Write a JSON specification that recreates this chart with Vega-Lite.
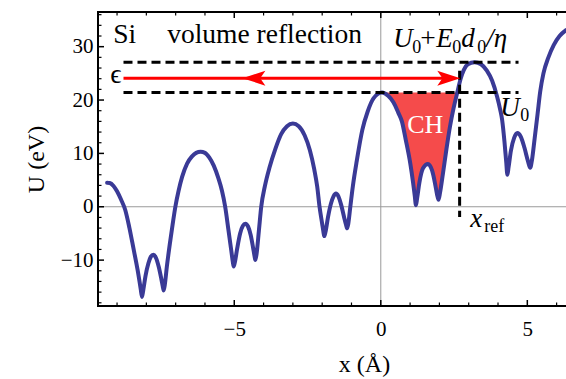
{
  "$schema": "https://vega.github.io/schema/vega-lite/v6.json",
  "width": 468,
  "height": 294,
  "autosize": {"type": "none"},
  "padding": {"left": 98, "top": 12, "right": 0, "bottom": 73},
  "background": "white",
  "config": {"view": {"stroke": null}, "font": "Liberation Serif"},
  "datasets": {
    "potential": [
      {"x": -9.34, "U": 4.5}, {"x": -9.25, "U": 4.45}, {"x": -9.12, "U": 3.9}, {"x": -9.0, "U": 2.9},
      {"x": -8.86, "U": 1.3}, {"x": -8.72, "U": -0.6}, {"x": -8.58, "U": -3.9}, {"x": -8.44, "U": -7.8},
      {"x": -8.3, "U": -11.8}, {"x": -8.19, "U": -15.5}, {"x": -8.15, "U": -16.9}, {"x": -8.11, "U": -15.8},
      {"x": -8.03, "U": -13.0}, {"x": -7.93, "U": -10.6}, {"x": -7.85, "U": -9.4}, {"x": -7.76, "U": -9.0},
      {"x": -7.67, "U": -9.6}, {"x": -7.58, "U": -11.2}, {"x": -7.49, "U": -13.5}, {"x": -7.44, "U": -14.9},
      {"x": -7.41, "U": -15.7}, {"x": -7.37, "U": -14.6}, {"x": -7.3, "U": -11.2}, {"x": -7.2, "U": -7.0},
      {"x": -7.1, "U": -3.2}, {"x": -7.01, "U": 0}, {"x": -6.9, "U": 3.0}, {"x": -6.78, "U": 5.6},
      {"x": -6.61, "U": 8.1}, {"x": -6.45, "U": 9.4}, {"x": -6.3, "U": 10.1}, {"x": -6.15, "U": 10.3},
      {"x": -6.0, "U": 10.1}, {"x": -5.85, "U": 9.2}, {"x": -5.7, "U": 7.7}, {"x": -5.54, "U": 5.3},
      {"x": -5.42, "U": 3.0}, {"x": -5.31, "U": 0}, {"x": -5.2, "U": -4.3}, {"x": -5.1, "U": -8.3},
      {"x": -5.05, "U": -10.3}, {"x": -5.02, "U": -11.2}, {"x": -4.98, "U": -10.4}, {"x": -4.9, "U": -7.8},
      {"x": -4.8, "U": -5.0}, {"x": -4.71, "U": -3.6}, {"x": -4.62, "U": -3.2}, {"x": -4.53, "U": -3.7},
      {"x": -4.44, "U": -5.3}, {"x": -4.36, "U": -7.6}, {"x": -4.31, "U": -9.2}, {"x": -4.28, "U": -10.0},
      {"x": -4.24, "U": -8.9}, {"x": -4.16, "U": -4.5}, {"x": -4.08, "U": 0}, {"x": -3.95, "U": 4.0},
      {"x": -3.8, "U": 7.3}, {"x": -3.6, "U": 10.8}, {"x": -3.4, "U": 13.6}, {"x": -3.2, "U": 15.1},
      {"x": -3.0, "U": 15.6}, {"x": -2.8, "U": 15.1}, {"x": -2.6, "U": 13.4}, {"x": -2.42, "U": 10.6},
      {"x": -2.27, "U": 7.0}, {"x": -2.17, "U": 3.8}, {"x": -2.09, "U": 0}, {"x": -2.0, "U": -3.2},
      {"x": -1.96, "U": -4.6}, {"x": -1.93, "U": -5.5}, {"x": -1.89, "U": -4.8}, {"x": -1.8, "U": -1.9},
      {"x": -1.7, "U": 0.6}, {"x": -1.61, "U": 2.0}, {"x": -1.53, "U": 2.5}, {"x": -1.45, "U": 2.0},
      {"x": -1.35, "U": 0.3}, {"x": -1.25, "U": -2.0}, {"x": -1.18, "U": -3.5}, {"x": -1.15, "U": -4.05},
      {"x": -1.11, "U": -3.2}, {"x": -1.04, "U": 0}, {"x": -0.95, "U": 4.0}, {"x": -0.82, "U": 8.6},
      {"x": -0.63, "U": 14.4}, {"x": -0.45, "U": 17.8}, {"x": -0.25, "U": 20.3}, {"x": 0.04, "U": 21.4},
      {"x": 0.25, "U": 20.8}, {"x": 0.43, "U": 19.6}, {"x": 0.6, "U": 17.6}, {"x": 0.72, "U": 16.0},
      {"x": 0.85, "U": 12.6}, {"x": 1.01, "U": 8.0}, {"x": 1.1, "U": 4.6}, {"x": 1.16, "U": 2.0},
      {"x": 1.2, "U": 0.3}, {"x": 1.24, "U": 1.6}, {"x": 1.32, "U": 4.6}, {"x": 1.44, "U": 7.2},
      {"x": 1.61, "U": 8.0}, {"x": 1.75, "U": 6.8}, {"x": 1.85, "U": 4.4}, {"x": 1.92, "U": 2.3},
      {"x": 1.97, "U": 1.3}, {"x": 2.02, "U": 2.6}, {"x": 2.12, "U": 6.2}, {"x": 2.24, "U": 10.8},
      {"x": 2.36, "U": 15.0}, {"x": 2.48, "U": 18.4}, {"x": 2.61, "U": 21.4}, {"x": 2.72, "U": 23.9},
      {"x": 2.83, "U": 25.6}, {"x": 2.97, "U": 26.7}, {"x": 3.2, "U": 27.1}, {"x": 3.42, "U": 26.7},
      {"x": 3.62, "U": 25.5}, {"x": 3.8, "U": 23.6}, {"x": 3.97, "U": 20.6}, {"x": 4.07, "U": 18.3},
      {"x": 4.14, "U": 16.3}, {"x": 4.22, "U": 12.2}, {"x": 4.28, "U": 8.4}, {"x": 4.32, "U": 6.0},
      {"x": 4.36, "U": 7.4}, {"x": 4.44, "U": 10.5}, {"x": 4.55, "U": 12.9}, {"x": 4.66, "U": 13.8},
      {"x": 4.78, "U": 13.1}, {"x": 4.9, "U": 11.1}, {"x": 5.02, "U": 8.6}, {"x": 5.1, "U": 7.3},
      {"x": 5.16, "U": 8.8}, {"x": 5.25, "U": 12.8}, {"x": 5.35, "U": 17.4}, {"x": 5.44, "U": 21.6},
      {"x": 5.55, "U": 25.0}, {"x": 5.72, "U": 28.0}, {"x": 5.9, "U": 30.3}, {"x": 6.1, "U": 32.0},
      {"x": 6.32, "U": 33.1}
    ],
    "levels": [
      {"name": "U0+E0d0/η", "x0": -8.78, "x1": 4.7, "y": 27.1},
      {"name": "U0", "x0": -8.78, "x1": 4.7, "y": 21.4}
    ],
    "xref": [{"x": 2.69, "y0": 25.5, "y1": -1.9}],
    "beam": [{"x0": -8.78, "x1": 2.5, "y": 24.1}],
    "headLeft": [{"x": -4.33, "y": 24.1}],
    "headRight": [{"x": 2.32, "y": 24.1}],
    "frame": [{"xmin": -9.65, "ymin": -18.6, "ymax": 36.5}],
    "xMajor": [{"v": -5}, {"v": 0}, {"v": 5}],
    "xMinor": [
      {"v": -9}, {"v": -8}, {"v": -7}, {"v": -6}, {"v": -4}, {"v": -3}, {"v": -2},
      {"v": -1}, {"v": 1}, {"v": 2}, {"v": 3}, {"v": 4}, {"v": 6}
    ],
    "yMajor": [{"v": -10}, {"v": 0}, {"v": 10}, {"v": 20}, {"v": 30}],
    "yMinor": [
      {"v": -18}, {"v": -16}, {"v": -14}, {"v": -12}, {"v": -8}, {"v": -6}, {"v": -4}, {"v": -2},
      {"v": 2}, {"v": 4}, {"v": 6}, {"v": 8}, {"v": 12}, {"v": 14}, {"v": 16}, {"v": 18},
      {"v": 22}, {"v": 24}, {"v": 26}, {"v": 28}, {"v": 32}, {"v": 34}, {"v": 36}
    ],
    "roman": [
      {"x": -9.13, "y": 30.7, "text": "Si"},
      {"x": -7.29, "y": 30.7, "text": "volume reflection"},
      {"x": -9.23, "y": 23.2, "text": "ϵ"},
      {"x": 1.348, "y": 29.94, "text": "+"}
    ],
    "italic": [
      {"x": 0.427, "y": 29.94, "text": "U"},
      {"x": 1.894, "y": 29.94, "text": "E"},
      {"x": 2.747, "y": 29.94, "text": "d"},
      {"x": 3.601, "y": 29.94, "text": "/η"},
      {"x": 4.08, "y": 17.0, "text": "U"},
      {"x": 3.05, "y": -3.8, "text": "x"}
    ],
    "subscripts": [
      {"x": 1.075, "y": 28.8, "text": "0"},
      {"x": 2.44, "y": 28.8, "text": "0"},
      {"x": 3.294, "y": 28.8, "text": "0"},
      {"x": 4.76, "y": 16.0, "text": "0"},
      {"x": 3.53, "y": -4.75, "text": "ref"}
    ],
    "channel": [{"x": 1.52, "y": 13.8, "text": "CH"}]
  },
  "layer": [
    {
      "data": {"name": "potential"},
      "transform": [{"filter": {"field": "x", "range": [0.04, 2.61]}}],
      "mark": {"type": "area", "interpolate": "monotone", "color": "#f54b4b", "opacity": 1},
      "encoding": {
        "x": {
          "field": "x", "type": "quantitative",
          "scale": {"domain": [-9.65, 6.32], "nice": false, "zero": false},
          "axis": {
            "values": [-5, 0, 5], "title": "x (Å)", "grid": false, "ticks": false, "domain": false,
            "labelFont": "Liberation Serif", "labelFontSize": 21, "labelColor": "black", "labelPadding": 12,
            "titleFont": "Liberation Serif", "titleFontSize": 24, "titleFontWeight": "normal", "titleColor": "black",
            "titleX": 266, "titleY": 65, "titleBaseline": "alphabetic"
          }
        },
        "y": {
          "field": "U", "type": "quantitative",
          "scale": {"domain": [-18.6, 36.5], "nice": false, "zero": false},
          "axis": {
            "values": [-10, 0, 10, 20, 30], "title": "U (eV)", "grid": false, "ticks": false, "domain": false,
            "labelFont": "Liberation Serif", "labelFontSize": 21, "labelColor": "black", "labelPadding": 5,
            "titleFont": "Liberation Serif", "titleFontSize": 24, "titleFontWeight": "normal", "titleColor": "black",
            "titleX": -55, "titleY": 147, "titleAngle": -90, "titleBaseline": "alphabetic", "titleAlign": "center"
          }
        },
        "y2": {"datum": 21.4}
      }
    },
    {
      "data": {"name": "frame"},
      "layer": [
        {
          "mark": {"type": "rule", "color": "#9a9a9a", "strokeWidth": 1},
          "encoding": {"x": {"datum": 0, "type": "quantitative"}}
        },
        {
          "mark": {"type": "rule", "color": "#9a9a9a", "strokeWidth": 1},
          "encoding": {"y": {"datum": 0, "type": "quantitative"}}
        }
      ]
    },
    {
      "data": {"name": "potential"},
      "mark": {"type": "line", "interpolate": "monotone", "color": "#3a3a96", "strokeWidth": 4, "strokeCap": "round", "strokeJoin": "round"},
      "encoding": {
        "x": {"field": "x", "type": "quantitative"},
        "y": {"field": "U", "type": "quantitative"}
      }
    },
    {
      "data": {"name": "levels"},
      "mark": {"type": "rule", "color": "black", "strokeWidth": 3, "strokeDash": [9, 5]},
      "encoding": {
        "x": {"field": "x0", "type": "quantitative"},
        "x2": {"field": "x1"},
        "y": {"field": "y", "type": "quantitative"}
      }
    },
    {
      "data": {"name": "xref"},
      "mark": {"type": "rule", "color": "black", "strokeWidth": 3, "strokeDash": [9, 5]},
      "encoding": {
        "x": {"field": "x", "type": "quantitative"},
        "y": {"field": "y0", "type": "quantitative"},
        "y2": {"field": "y1"}
      }
    },
    {
      "data": {"name": "beam"},
      "mark": {"type": "rule", "color": "#ff0000", "strokeWidth": 3},
      "encoding": {
        "x": {"field": "x0", "type": "quantitative"},
        "x2": {"field": "x1"},
        "y": {"field": "y", "type": "quantitative"}
      }
    },
    {
      "data": {"name": "headLeft"},
      "mark": {"type": "point", "shape": "M -1 0 L 1 -0.65 L 0.55 0 L 1 0.65 Z", "size": 529, "filled": true, "color": "#ff0000", "opacity": 1, "strokeWidth": 0},
      "encoding": {
        "x": {"field": "x", "type": "quantitative"},
        "y": {"field": "y", "type": "quantitative"}
      }
    },
    {
      "data": {"name": "headRight"},
      "mark": {"type": "point", "shape": "M 1 0 L -1 -0.65 L -0.55 0 L -1 0.65 Z", "size": 529, "filled": true, "color": "#ff0000", "opacity": 1, "strokeWidth": 0},
      "encoding": {
        "x": {"field": "x", "type": "quantitative"},
        "y": {"field": "y", "type": "quantitative"}
      }
    },
    {
      "data": {"name": "frame"},
      "layer": [
        {
          "mark": {"type": "rule", "color": "black", "strokeWidth": 2, "strokeCap": "square"},
          "encoding": {"y": {"field": "ymin", "type": "quantitative"}}
        },
        {
          "mark": {"type": "rule", "color": "black", "strokeWidth": 2, "strokeCap": "square"},
          "encoding": {"y": {"field": "ymax", "type": "quantitative"}}
        },
        {
          "mark": {"type": "rule", "color": "black", "strokeWidth": 2, "strokeCap": "square"},
          "encoding": {"x": {"field": "xmin", "type": "quantitative"}}
        }
      ]
    },
    {
      "data": {"name": "xMajor"},
      "layer": [
        {"mark": {"type": "tick", "orient": "vertical", "size": 12, "thickness": 1.5, "color": "black", "opacity": 1, "clip": true},
         "encoding": {"x": {"field": "v", "type": "quantitative"}, "y": {"datum": -18.6, "type": "quantitative"}}},
        {"mark": {"type": "tick", "orient": "vertical", "size": 12, "thickness": 1.5, "color": "black", "opacity": 1, "clip": true},
         "encoding": {"x": {"field": "v", "type": "quantitative"}, "y": {"datum": 36.5, "type": "quantitative"}}}
      ]
    },
    {
      "data": {"name": "xMinor"},
      "layer": [
        {"mark": {"type": "tick", "orient": "vertical", "size": 7, "thickness": 1.2, "color": "black", "opacity": 1, "clip": true},
         "encoding": {"x": {"field": "v", "type": "quantitative"}, "y": {"datum": -18.6, "type": "quantitative"}}},
        {"mark": {"type": "tick", "orient": "vertical", "size": 7, "thickness": 1.2, "color": "black", "opacity": 1, "clip": true},
         "encoding": {"x": {"field": "v", "type": "quantitative"}, "y": {"datum": 36.5, "type": "quantitative"}}}
      ]
    },
    {
      "data": {"name": "yMajor"},
      "mark": {"type": "tick", "orient": "horizontal", "size": 12, "thickness": 1.5, "color": "black", "opacity": 1, "clip": true},
      "encoding": {"y": {"field": "v", "type": "quantitative"}, "x": {"datum": -9.65, "type": "quantitative"}}
    },
    {
      "data": {"name": "yMinor"},
      "mark": {"type": "tick", "orient": "horizontal", "size": 7, "thickness": 1.2, "color": "black", "opacity": 1, "clip": true},
      "encoding": {"y": {"field": "v", "type": "quantitative"}, "x": {"datum": -9.65, "type": "quantitative"}}
    },
    {
      "data": {"name": "roman"},
      "mark": {"type": "text", "font": "Liberation Serif, DejaVu Serif", "fontSize": 27.5, "align": "left", "baseline": "alphabetic", "color": "black"},
      "encoding": {
        "x": {"field": "x", "type": "quantitative"},
        "y": {"field": "y", "type": "quantitative"},
        "text": {"field": "text"}
      }
    },
    {
      "data": {"name": "italic"},
      "mark": {"type": "text", "font": "Liberation Serif, DejaVu Serif", "fontSize": 27, "fontStyle": "italic", "align": "left", "baseline": "alphabetic", "color": "black"},
      "encoding": {
        "x": {"field": "x", "type": "quantitative"},
        "y": {"field": "y", "type": "quantitative"},
        "text": {"field": "text"}
      }
    },
    {
      "data": {"name": "subscripts"},
      "mark": {"type": "text", "font": "Liberation Serif", "fontSize": 18, "align": "left", "baseline": "alphabetic", "color": "black"},
      "encoding": {
        "x": {"field": "x", "type": "quantitative"},
        "y": {"field": "y", "type": "quantitative"},
        "text": {"field": "text"}
      }
    },
    {
      "data": {"name": "channel"},
      "mark": {"type": "text", "font": "Liberation Serif", "fontSize": 26, "align": "center", "baseline": "alphabetic", "color": "white"},
      "encoding": {
        "x": {"field": "x", "type": "quantitative"},
        "y": {"field": "y", "type": "quantitative"},
        "text": {"field": "text"}
      }
    }
  ]
}
